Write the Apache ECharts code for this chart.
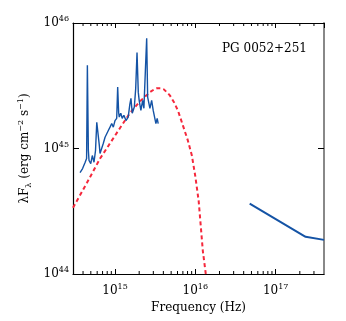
<!DOCTYPE html>
<html>
<head>
<meta charset="utf-8">
<style>html,body{margin:0;padding:0;background:#fff;}#c{width:346px;height:321px;}</style>
<script src="https://cdn.jsdelivr.net/npm/echarts@6/dist/echarts.min.js"></script>
</head>
<body>
<div id="c"></div>
<script>
// Optical/UV spectrum: [frequency Hz, lambda F_lambda erg/s]
const spectrumFreq = [3.67e14,3.95e14,4.24e14,4.43e14,4.53e14,4.66e14,4.75e14,4.99e14,5.22e14,5.48e14,5.72e14,5.93e14,6.21e14,6.38e14,6.51e14,6.84e14,7.16e14,7.52e14,7.89e14,8.26e14,8.67e14,9.10e14,9.53e14,1.00e15,1.05e15,1.08e15,1.11e15,1.13e15,1.18e15,1.23e15,1.29e15,1.37e15,1.46e15,1.53e15,1.58e15,1.64e15,1.74e15,1.81e15,1.88e15,1.95e15,2.00e15,2.10e15,2.21e15,2.29e15,2.39e15,2.48e15,2.55e15,2.72e15,2.86e15,2.99e15,3.14e15,3.23e15,3.35e15,3.45e15];
const spectrumLum = [6.43e44,6.92e44,7.73e44,8.32e44,4.61e45,9.64e44,8.02e44,7.59e44,8.79e44,7.77e44,9.64e44,1.62e45,1.67e45,1.06e45,9.12e44,9.34e44,1.10e45,1.23e45,1.20e45,1.39e45,1.48e45,1.58e45,1.48e45,1.67e45,1.74e45,3.09e45,1.94e45,1.78e45,1.91e45,1.74e45,1.84e45,1.67e45,1.78e45,2.25e45,2.51e45,1.91e45,2.14e45,3.0e45,5.83e45,2.8e45,2.42e45,2.01e45,2.42e45,2.09e45,4.21e45,7.55e45,2.57e45,2.09e45,2.42e45,2.01e45,1.95e45,1.58e45,1.74e45,1.58e45];
// Accretion disk model (red dashed)
const diskFreq = [3.0e14,4.49e14,6.52e14,8.67e14,1.15e15,1.53e15,2.05e15,2.72e15,3.05e15,3.33e15,3.7e15,4.06e15,4.82e15,5.4e15,6.07e15,7.0e15,8.07e15,9.06e15,1.0e16,1.10e16,1.24e16,1.35e16];
const diskLum = [3.37e44,5.35e44,8.32e44,1.10e45,1.45e45,1.91e45,2.38e45,2.81e45,2.95e45,3.02e45,3.02e45,2.96e45,2.65e45,2.35e45,2.01e45,1.53e45,1.16e45,8.79e44,6.0e44,3.84e44,1.53e44,1.0e44];
// X-ray power law
const xrayFreq = [4.75e16,2.36e17,4.0e17];
const xrayLum = [3.63e44,1.98e44,1.87e44];
// Axis ranges and minor ticks
const xMin = 3e14, xMax = 4e17, yMin = 1e44, yMax = 1e46;
const minorTicks = [4e14,5e14,6e14,7e14,8e14,9e14,2e15,3e15,4e15,5e15,6e15,7e15,8e15,9e15,2e16,3e16,4e16,5e16,6e16,7e16,8e16,9e16,2e17,3e17];
const titleText = 'PG 0052+251';

const FONT = 'DejaVu Serif';
const zip = (a, b) => a.map((v, i) => [v, b[i]]);
function powLabel(v) {
  const e = Math.round(Math.log10(v));
  if (Math.abs(Math.pow(10, e) - v) / v > 1e-6) return '';
  return '{b|10}{s|' + e + '}';
}
const rich = {
  b: {fontFamily: FONT, fontSize: 12, color: '#000'},
  s: {fontFamily: FONT, fontSize: 8, color: '#000', padding: [0, 0, 8, 0]}
};

const chart = echarts.init(document.getElementById('c'), null, {renderer: 'canvas'});
chart.setOption({
  animation: false,
  title: {text: titleText, right: 34, top: 38, textStyle: {fontFamily: FONT, fontSize: 12, fontWeight: 'normal', color: '#000'}},
  grid: {left: 73, right: 22, top: 23, bottom: 47},
  xAxis: [{
    type: 'log', min: xMin, max: xMax, position: 'bottom',
    name: 'Frequency (Hz)', nameLocation: 'middle', nameGap: 22,
    nameTextStyle: {fontFamily: FONT, fontSize: 12, color: '#000'},
    axisLine: {lineStyle: {color: '#000', width: 1.2}},
    axisTick: {inside: true, length: 5, lineStyle: {color: '#000'}},
    axisLabel: {formatter: powLabel, rich: rich, margin: 9, showMinLabel: false, showMaxLabel: false},
    splitLine: {show: false}
  }, {
    type: 'log', min: xMin, max: xMax, position: 'top',
    axisLine: {lineStyle: {color: '#000', width: 1.2}},
    axisTick: {inside: true, length: 5, lineStyle: {color: '#000'}},
    axisLabel: {show: false}, splitLine: {show: false}
  }],
  yAxis: [{
    type: 'log', min: yMin, max: yMax, position: 'left',
    name: '{t|λF}{sub|λ}{t| (erg cm}{sup|−2}{t| s}{sup|−1}{t|)}',
    nameLocation: 'middle', nameGap: 34, nameRotate: 90,
    nameTextStyle: {rich: {
      t: {fontFamily: FONT, fontSize: 12, color: '#000'},
      sub: {fontFamily: FONT, fontSize: 8, color: '#000', padding: [7, 0, 0, 0]},
      sup: {fontFamily: FONT, fontSize: 8, color: '#000', padding: [0, 0, 8, 0]}
    }},
    axisLine: {lineStyle: {color: '#000', width: 1.2}},
    axisTick: {inside: true, length: 6, lineStyle: {color: '#000'}},
    axisLabel: {formatter: powLabel, rich: rich, margin: 4},
    splitLine: {show: false}
  }, {
    type: 'log', min: yMin, max: yMax, position: 'right',
    axisLine: {lineStyle: {color: '#888', width: 2}},
    axisTick: {inside: true, length: 6, lineStyle: {color: '#000'}},
    axisLabel: {show: false}, splitLine: {show: false}
  }],
  series: [{
    type: 'line', data: zip(diskFreq, diskLum), showSymbol: false, smooth: false,
    lineStyle: {color: '#f5283c', width: 2, type: [4, 3]}, z: 2
  }, {
    type: 'line', data: zip(spectrumFreq, spectrumLum), showSymbol: false,
    lineStyle: {color: '#1453a5', width: 1.4}, z: 3
  }, {
    type: 'line', data: zip(xrayFreq, xrayLum), showSymbol: false,
    lineStyle: {color: '#1453a5', width: 2}, z: 3
  }, {
    type: 'custom', data: minorTicks.map(v => [v, yMin]), encode: {x: 0, y: 1}, silent: true, clip: false,
    renderItem: function (params, api) {
      const v = api.value(0);
      const b = api.coord([v, yMin]);
      const t = api.coord([v, yMax]);
      return {type: 'group', children: [
        {type: 'line', shape: {x1: b[0], y1: b[1], x2: b[0], y2: b[1] - 3}, style: {stroke: '#000', lineWidth: 1}},
        {type: 'line', shape: {x1: t[0], y1: t[1], x2: t[0], y2: t[1] + 3}, style: {stroke: '#000', lineWidth: 1}}
      ]};
    }, z: 5
  }]
});
</script>
</body>
</html>
